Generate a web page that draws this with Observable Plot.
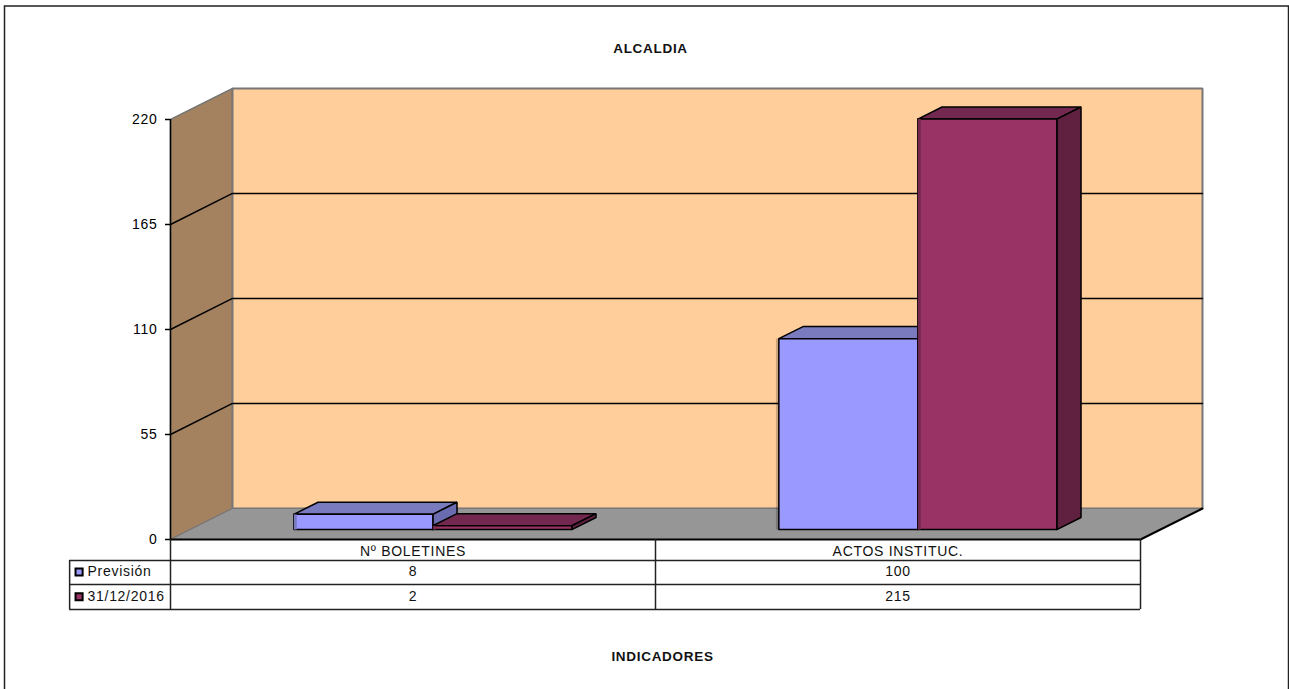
<!DOCTYPE html>
<html><head><meta charset="utf-8">
<script src="https://cdn.jsdelivr.net/npm/d3@7"></script>
<script src="https://cdn.jsdelivr.net/npm/@observablehq/plot@0.6"></script>
<style>
html,body{margin:0;padding:0;background:#fff;overflow:hidden}
svg text{letter-spacing:.7px}
</style></head><body><div id="chart"></div>
<script>
const categories = ["Nº BOLETINES", "ACTOS INSTITUC."];
const seriesNames = ["Previsión", "31/12/2016"];
const prevision = [8, 100];
const fecha = [2, 215];
const yTicks = [0, 55, 110, 165, 220];
const gridValues = [55, 110, 165];

const font = "Liberation Sans, Arial, sans-serif";
const colors = {
  wall:"#FFCE9B", side:"#A5825F", floor:"#969696",
  s0:{front:"#9999FF", top:"#7A7ABF", right:"#6B6BB0"},
  s1:{front:"#993366", top:"#73294F", right:"#602040"}
};
// oblique projection: one full unit of depth, in data units
const DX = 62/485, DY = 16.24;
const P = (x,y,d)=>({X:x+d*DX, Y:y+d*DY});
const face = (pts,fill,stroke="black",strokeWidth=1.5,fillOpacity=1)=>
  Plot.line([...pts,pts[0]].map(p=>P(...p)),{x:"X",y:"Y",fill,fillOpacity,stroke,strokeWidth,strokeLinejoin:"miter"});

const yMax = 220, d0 = 0.32, d1 = 0.71, barW = 139/485, strip = 0.006;
function bar(cat,serie,v,c,outerShadow=false){
  const x0 = cat+0.5-barW+serie*barW, x1 = x0+barW;
  return [
    face([[x0,v,d0],[x1,v,d0],[x1,v,d1],[x0,v,d1]],c.top),
    face([[x1,0,d0],[x1,v,d0],[x1,v,d1],[x1,0,d1]],c.right),
    outerShadow
      ? face([[x0-strip,0,d0],[x0,0,d0],[x0,v,d0],[x0-strip,v,d0]],"black","none",0,0.2)
      : null,
    face([[x0,0,d0],[x1,0,d0],[x1,v,d0],[x0,v,d0]],c.front),
    outerShadow ? null : face([[x0,0,d0],[x0+strip,0,d0],[x0+strip,v,d0],[x0,v,d0]],c.top,"none",0)
  ].filter(Boolean);
}
const tableLeft = -0.208;
const rowLines = [-11, -23.6, -36.7];
const rowMid = [-6.3, -17, -30];

const marks = [
  Plot.frame({stroke:"#222",strokeWidth:1.5,insetLeft:-166,insetTop:-113.5,insetRight:-148,insetBottom:-160}),
  // walls and floor
  face([[0,0,0],[0,yMax,0],[0,yMax,1],[0,0,1]],colors.side,"#777",1.5),
  face([[0,0,1],[2,0,1],[2,yMax,1],[0,yMax,1]],colors.wall,"#777",2),
  face([[0,0,0],[2,0,0],[2,0,1],[0,0,1]],colors.floor,"#777",1),
  // gridlines on both walls
  ...gridValues.map(v=>
    Plot.line([P(0,v,0),P(0,v,1),P(2,v,1)],{x:"X",y:"Y",stroke:"black",strokeWidth:1.4})
  ),
  // front and right floor edges
  Plot.line([P(0,0,0),P(2,0,0),P(2,0,1)],{x:"X",y:"Y",stroke:"black",strokeWidth:2}),
  Plot.ruleX([0],{y1:0,y2:yMax,stroke:"black",strokeWidth:1.5}),
  // bars
  ...categories.flatMap((_,i)=>[
    ...bar(i,0,prevision[i],colors.s0,i===1),
    ...bar(i,1,fecha[i],colors.s1)
  ]),
  // y axis
  Plot.axisY({ticks:yTicks,tickSize:5,tickPadding:8,fontSize:14,label:null,stroke:"black",strokeWidth:1.5,tickFormat:d=>d}),
  // data table
  Plot.ruleY([rowLines[0]],{x1:tableLeft,x2:2,stroke:"#222",strokeWidth:1.5}),
  Plot.ruleY(rowLines.slice(1),{x1:tableLeft,x2:2,stroke:"#222",strokeWidth:1.5}),
  Plot.ruleX([0,1,2],{y1:0,y2:rowLines[2],stroke:"#222",strokeWidth:1.5}),
  Plot.ruleX([tableLeft],{y1:rowLines[0],y2:rowLines[2],stroke:"#222",strokeWidth:1.5}),
  Plot.text(categories,{x:(d,i)=>i+0.5,y:rowMid[0],text:d=>d,fontSize:14,fill:"#111"}),
  Plot.text(prevision,{x:(d,i)=>i+0.5,y:rowMid[1],text:d=>String(d),fontSize:14,fill:"#111"}),
  Plot.text(fecha,{x:(d,i)=>i+0.5,y:rowMid[2],text:d=>String(d),fontSize:14,fill:"#111"}),
  Plot.text(seriesNames,{x:tableLeft+0.037,y:(d,i)=>rowMid[i+1],text:d=>d,textAnchor:"start",fontSize:14,fill:"#111"}),
  Plot.dot([0],{x:tableLeft+0.0195,y:rowMid[1],symbol:"square",r:4,fill:colors.s0.front,stroke:"black",strokeWidth:2}),
  Plot.dot([0],{x:tableLeft+0.0195,y:rowMid[2],symbol:"square",r:4,fill:colors.s1.front,stroke:"black",strokeWidth:2}),
  // titles
  Plot.text(["ALCALDIA"],{frameAnchor:"top",dx:-5,dy:-76,text:d=>d,fontWeight:"bold",fontSize:13.5,fill:"#111"}),
  Plot.text(["INDICADORES"],{frameAnchor:"bottom",dx:7,dy:121,text:d=>d,fontWeight:"bold",fontSize:13.5,fill:"#111"})
];

const chart = Plot.plot({
  width:1289,height:689,
  marginLeft:170,marginRight:149,marginTop:119,marginBottom:150,
  x:{domain:[0,2],axis:null},
  y:{domain:[0,yMax],axis:null},
  style:{fontFamily:font,background:"#fff",overflow:"visible"},
  marks
});
document.getElementById("chart").appendChild(chart);
</script></body></html>
